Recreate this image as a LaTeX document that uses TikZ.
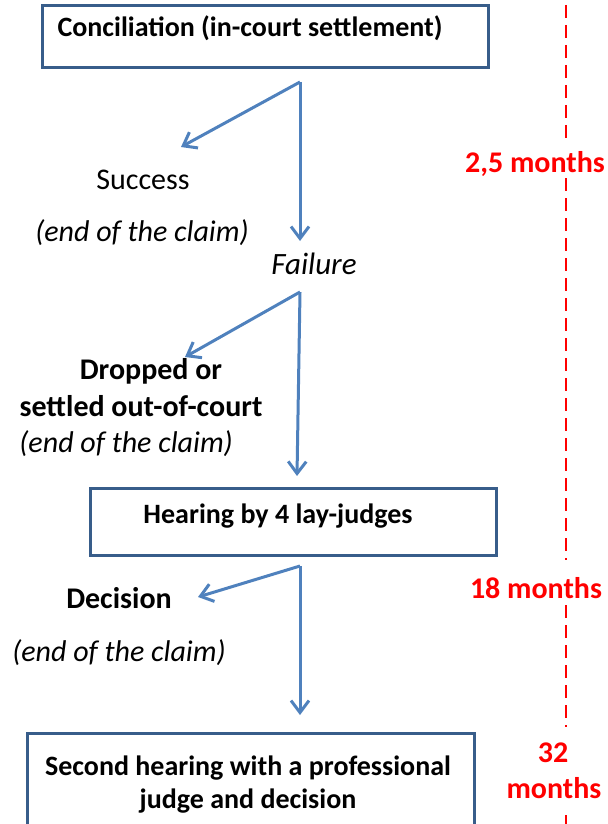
\documentclass[tikz,border=0pt]{standalone}
\usepackage{fontspec}
\setmainfont{Carlito}
\usetikzlibrary{arrows.meta}
\definecolor{flowblue}{RGB}{79,129,189}
\definecolor{boxblue}{RGB}{56,93,138}
\definecolor{timered}{RGB}{255,0,0}

\begin{document}
\begin{tikzpicture}[x=0.5pt,y=-0.5pt,
	box/.style={draw=boxblue, line width=1.5pt, inner sep=0pt},
	flow/.style={flowblue, line width=1.5pt, -{Straight Barb[length=6pt,width=9pt]}},
	txt/.style={anchor=base, inner sep=0pt, font=\fontsize{15}{18}\selectfont},
	strong/.style={txt, font=\fontsize{15}{18}\selectfont\bfseries},
	boxtext/.style={txt, font=\fontsize{14}{17}\selectfont\bfseries},
	claim/.style={txt, font=\fontsize{15}{18}\selectfont\itshape},
	months/.style={strong, text=timered},
	timeline/.style={timered, line width=1.3pt, dash pattern=on 6.5pt off 3.5pt}]

	\useasboundingbox (0,0) rectangle (607,824);
	\clip (0,0) rectangle (607,824);

	% boxes
	\node[box, minimum width=223pt, minimum height=31pt] (concil) at (265,37) {};
	\node[box, minimum width=203pt, minimum height=33.5pt] (hear) at (293,521.5) {};
	\node[box, minimum width=223.5pt, minimum height=58.5pt] (second) at (250.5,791.5) {};

	\node[boxtext] (concilt) at (250,37) {Conciliation (in-court settlement)};
	\node[boxtext] (heart) at (278,523) {Hearing by 4 lay-judges};
	\node[boxtext] (second1) at (248,775) {Second hearing with a professional};
	\node[boxtext] (second2) at (248,808) {judge and decision};

	% outcomes
	\node[txt] (succ) at (143,189) {Success};
	\node[claim] (end1) at (142,241) {(end of the claim)};
	\node[claim, font=\fontsize{15.5}{18}\selectfont\itshape] (fail) at (314,274) {Failure};
	\node[strong] (drop1) at (151,379) {Dropped or};
	\node[strong] (drop2) at (141,416) {settled out-of-court};
	\node[claim, anchor=base west] (end2) at (19,452) {(end of the claim)};
	\node[strong] (deci) at (119,608) {Decision};
	\node[claim] (end3) at (119,661) {(end of the claim)};

	% branches
	\coordinate (b1) at (300,82);
	\coordinate (b1s) at (181,147);
	\coordinate (b1f) at (300,241);
	\coordinate (b2) at (300,292);
	\coordinate (b2d) at (185,357);
	\coordinate (b2h) at (297,476);
	\coordinate (b3) at (300,566);
	\coordinate (b3d) at (198,597);
	\coordinate (b3s) at (300,715);

	\draw[flow] (b1) -- (b1s);
	\draw[flow] (b1) -- (b1f);
	\draw[flow] (b2) -- (b2d);
	\draw[flow] (b2) -- (b2h);
	\draw[flow] (b3) -- (b3d);
	\draw[flow] (b3) -- (b3s);

	% time line
	\node[months] (t1) at (535,172) {2,5 months};
	\node[months] (t2) at (536,598) {18 months};
	\node[months] (t3a) at (553,762) {32};
	\node[months] (t3b) at (554,798) {months};

	\draw[timeline] (566,5) -- (566,138);
	\draw[timeline] (566,178) -- (566,560);
	\draw[timeline] (566,605) -- (566,727);
	\draw[timeline] (566,815) -- (566,830);

\end{tikzpicture}
\end{document}
